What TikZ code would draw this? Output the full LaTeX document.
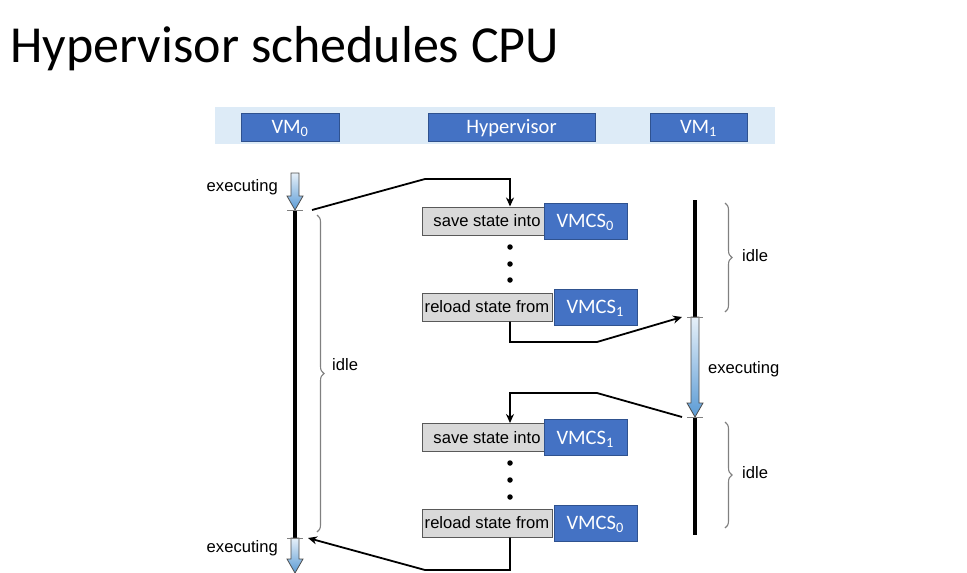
\documentclass[tikz,border=0pt]{standalone}
\usepackage{fontspec}
\setmainfont{Carlito}
\newfontfamily\lblfont{Liberation Sans}
\usepackage{tikz}
\usetikzlibrary{positioning}
\usetikzlibrary{arrows.meta,decorations.pathreplacing}
\definecolor{hvblue}{HTML}{4472C4}
\definecolor{hvedge}{HTML}{2F528F}
\definecolor{bandblue}{HTML}{DDEBF7}
\definecolor{stepgray}{HTML}{D9D9D9}
\definecolor{execblue}{HTML}{5B9BD5}
\tikzset{
	headbox/.style={draw=hvedge,fill=hvblue,text=white,minimum height=28pt,inner sep=0pt,
			text height=13.2pt,text depth=0pt,font=\fontsize{20.5}{22}\selectfont},
	stepbox/.style={draw=gray!70!black,fill=stepgray,minimum width=130pt,minimum height=28pt,
			inner sep=0pt,line width=1pt,font=\lblfont\fontsize{16.6}{18}\selectfont},
	vmcsbox/.style={draw=hvedge,fill=hvblue,text=white,minimum width=83pt,minimum height=36pt,
			inner sep=0pt,text height=13.2pt,text depth=0pt,font=\fontsize{20.5}{22}\selectfont},
	dot/.style={circle,fill=black,inner sep=0pt,minimum size=5.5pt},
	lbl/.style={inner sep=0pt,font=\lblfont\fontsize{16.6}{18}\selectfont},
	flow/.style={draw,line width=1.8pt,-{Stealth[length=9pt,width=8pt]}},
	timeline/.style={line width=4pt},
	tick/.style={draw=gray,line width=1pt},
	idlebrace/.style={decorate,decoration={brace,amplitude=7pt},draw=gray,line width=1.1pt}
}
\newcommand{\execarrow}[3]{%
	\shadedraw[top color=execblue!15,bottom color=execblue,draw=gray!60!black,line width=0.8pt]
		(#1-4,#2) -- (#1+4,#2) -- (#1+4,#3-14) -- (#1+8,#3-14) -- (#1,#3)
		-- (#1-8,#3-14) -- (#1-4,#3-14) -- cycle;}

\begin{document}
\begin{tikzpicture}[x=1pt,y=-1pt]
  \useasboundingbox (0,0) rectangle (967,573);

  \node (title) at (10,62) [anchor=base west,inner sep=0pt,font=\fontsize{52}{60}\selectfont] {Hypervisor schedules CPU};

  \fill[bandblue] (215,107) rectangle (775,144);
  \node (vm0) at (290,127) [headbox,minimum width=98pt] {VM\textsubscript{0}};
  \node (hyp) at (511.5,127) [headbox,minimum width=167pt] {Hypervisor};
  \node (vm1) at (698.5,127) [headbox,minimum width=97pt] {VM\textsubscript{1}};

  \node (s1) at (487,221) [stepbox] {save state into};
  \node (c1) [vmcsbox,right=-9pt of s1] {VMCS\textsubscript{0}};
  \node (r1) at (487,307) [stepbox] {reload state from};
  \node (c2) [vmcsbox,right=1pt of r1] {VMCS\textsubscript{1}};
  \node (s2) at (487,437.5) [stepbox] {save state into};
  \node (c3) [vmcsbox,right=-9pt of s2] {VMCS\textsubscript{1}};
  \node (r2) at (487,523) [stepbox] {reload state from};
  \node (c4) [vmcsbox,right=1pt of r2] {VMCS\textsubscript{0}};
  \foreach \y [count=\i] in {247,264,280,463,480,497}
    \node (d\i) at (510,\y) [dot] {};

  \coordinate (v0a) at (295,210);
  \coordinate (v0b) at (295,538);
  \coordinate (v1a) at (695,317);
  \coordinate (v1b) at (695,417);

  \draw[timeline] (v0a) -- (v0b);
  \draw[timeline] (695,200) -- (v1a);
  \draw[timeline] (v1b) -- (695,535);
  \execarrow{295}{173}{210}
  \execarrow{295}{538}{573}
  \execarrow{695}{317}{417}
  \foreach \p in {v0a,v0b,v1a,v1b}
    \draw[tick] ([xshift=-8pt]\p) -- ([xshift=8pt]\p);

  \node (e1) at (278,187) [lbl,anchor=east] {executing};
  \node (e2) at (278,548) [lbl,anchor=east] {executing};
  \node (e3) at (708,369) [lbl,anchor=west] {executing};

  \draw[idlebrace] (317,215) -- (317,532);
  \node (i1) at (332,365) [lbl,anchor=west] {idle};
  \draw[idlebrace] (725,203) -- (725,312);
  \node (i2) at (742,256) [lbl,anchor=west] {idle};
  \draw[idlebrace] (725,422) -- (725,528);
  \node (i3) at (742,473) [lbl,anchor=west] {idle};

  \draw[flow] ([xshift=17pt]v0a) -- (425,179) -| (s1.north -| d1);
  \draw[flow] (r1.south -| d1) |- (597,342) -- ([xshift=-13pt]v1a);
  \draw[flow] ([xshift=-13pt]v1b) -- (597,393) -| (s2.north -| d4);
  \draw[flow] (r2.south -| d4) |- (425,570) -- ([xshift=13pt]v0b);
\end{tikzpicture}
\end{document}
